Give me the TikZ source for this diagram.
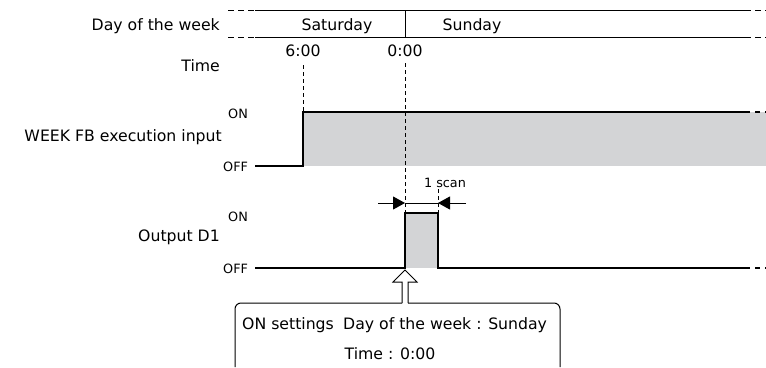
\documentclass[tikz,border=0pt]{standalone}
\usepackage{fontspec}
\setmainfont{DejaVu Sans}
\usetikzlibrary{arrows.meta,positioning,calc}
\definecolor{sigfill}{RGB}{211,212,214}
\tikzset{
    textlbl/.style = {font=\fontsize{15.7}{18}\selectfont, inner sep=0pt},
    levellbl/.style = {font=\fontsize{12.8}{15}\selectfont, inner sep=0pt},
    signal/.style = {line width=2pt},
    sigtail/.style = {line width=2pt, dash pattern=on 5pt off 5pt},
    marker/.style = {line width=1pt, dash pattern=on 4pt off 3pt},
    frame/.style = {line width=1pt},
    hdrtail/.style = {line width=1pt, dash pattern=on 6pt off 4pt},
    scanarrow/.style = {line width=1pt, -{Triangle[length=12pt,width=13pt]}},
}

\begin{document}
\begin{tikzpicture}[x=1pt, y=-1pt]
\useasboundingbox (0,0) rectangle (766,367);

% Day of the week row
\draw[hdrtail] (228,10) -- (255,10);
\draw[hdrtail] (228,37) -- (255,37);
\draw[frame] (255,10) -- (745,10);
\draw[frame] (255,37) -- (745,37);
\draw[hdrtail] (745,10) -- (766,10);
\draw[hdrtail] (745,37) -- (766,37);
\draw[frame] (405,10) -- (405,37);

\node[textlbl, anchor=base east] (dowlbl) at (220,30) {Day of the week};
\node[textlbl, anchor=base] (sat) at (337,30) {Saturday};
\node[textlbl, anchor=base] (sun) at (472,30) {Sunday};

% Time row
\node[textlbl, anchor=base east] (timelbl) at (220,71) {Time};
\node[textlbl, anchor=base] (tsix) at (303,56) {6:00};
\node[textlbl, anchor=base] (tzero) at (405,56) {0:00};

% WEEK FB execution input
\node[textlbl, anchor=base east] (fblbl) at (222,141) {WEEK FB execution input};
\node[levellbl, anchor=base west] (fbon) at (228,118) {ON};
\node[levellbl, anchor=base west] (fboff) at (223,171) {OFF};
\fill[sigfill] (303,112) rectangle (766,166);
\draw[signal] (255,166) -- (303,166) -- (303,112) -- (745,112);
\draw[sigtail] (745,112) -- (766,112);

% Output D1
\node[textlbl, anchor=base east] (d1lbl) at (220,241) {Output D1};
\node[levellbl, anchor=base west] (d1on) at (228,221) {ON};
\node[levellbl, anchor=base west] (d1off) at (223,273) {OFF};
\fill[sigfill] (405,213) rectangle (438,268);
\draw[signal] (255,268) -- (405,268) -- (405,213) -- (438,213) -- (438,268) -- (745,268);
\draw[sigtail] (745,268) -- (766,268);

% Time markers
\draw[marker] (tsix.south |- 0,65) -- (303,112);
\draw[marker] (tzero.south |- 0,63) -- (405,213);
\draw[marker] (438,189) -- (438,213);

% 1 scan
\node[levellbl, anchor=base] (scan) at (445,187) {1 scan};
\draw[scanarrow] (378,203) -- (405,203);
\draw[scanarrow] (466,203) -- (438,203);
\draw[line width=1pt] (405,203) -- (438,203);

% ON settings callout
\draw[frame, fill=white] (402,303) -- (402,282) -- (393,282) -- (405,270)
    -- (417,282) -- (408,282) -- (408,303);
\draw[frame, rounded corners=6pt] (402,303) -- (235,303) -- (235,367);
\draw[frame, rounded corners=6pt] (408,303) -- (560,303) -- (560,367);

\node[textlbl, anchor=base west] (onset) at (242,329) {ON settings};
\node[textlbl, anchor=base west] (onday) at (343,329) {Day of the week : Sunday};
\node[textlbl, anchor=base] (ontime) at (390,359) {Time : 0:00};

\end{tikzpicture}
\end{document}
